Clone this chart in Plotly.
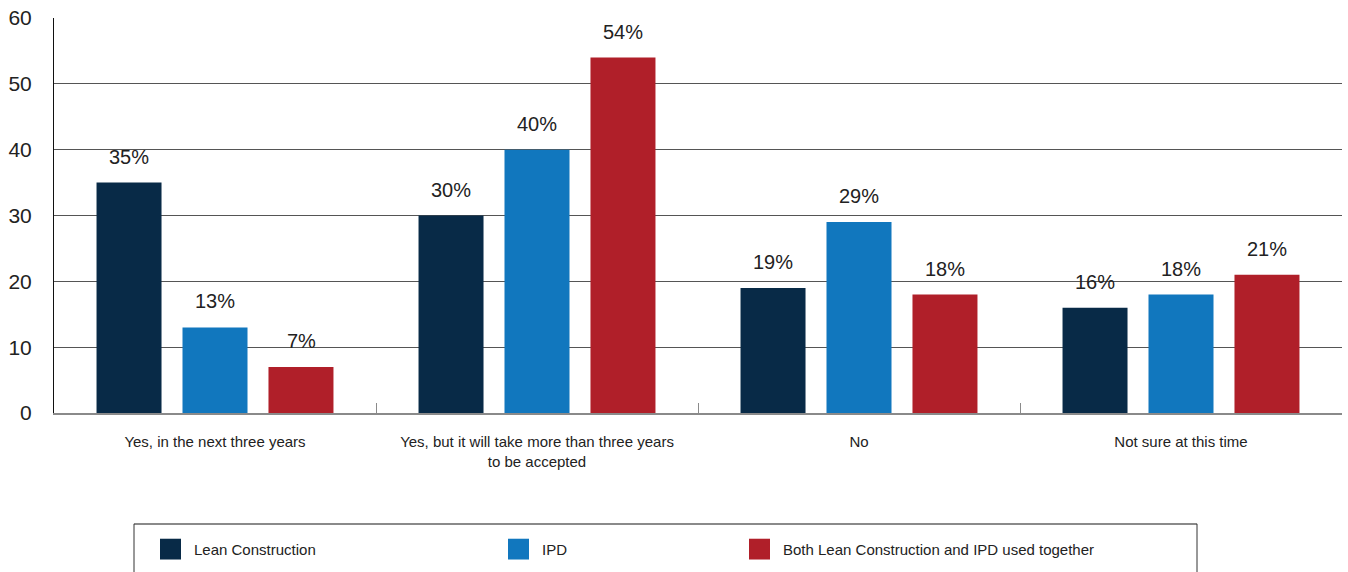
import plotly.graph_objects as go

categories = ["Yes, in the next three years",
              "Yes, but it will take more than three years<br>to be accepted",
              "No",
              "Not sure at this time"]
series_names = ["Lean Construction", "IPD", "Both Lean Construction and IPD used together"]
lean = [35, 30, 19, 16]
ipd = [13, 40, 29, 18]
both = [7, 54, 18, 21]
y_ticks = [0, 10, 20, 30, 40, 50, 60]

colors = ["#082a47", "#1177be", "#b01f29"]
values = [lean, ipd, both]

W, H = 1348, 572
L, R, T, B = 54, 6, 14, 159
pw, ph = W - L - R, H - T - B

def px(X):
    return (X - L) / pw

def py(Y):
    return (H - B - Y) / ph

fig = go.Figure()
for name, vals, c in zip(series_names, values, colors):
    fig.add_trace(go.Bar(x=categories, y=vals, name=name, marker=dict(color=c, line=dict(width=0)),
                         showlegend=False, hoverinfo="skip"))

slot = 86
annotations = []
for i, (vals, c) in enumerate(zip(values, colors)):
    for cat, v in zip(categories, vals):
        annotations.append(dict(x=cat, y=v, xref="x", yref="y", text=f"{v}%", showarrow=False,
                                xshift=(i - 1) * slot, yshift=13, yanchor="bottom",
                                font=dict(size=20, color="#222222")))

# manual legend
shapes = [
    dict(type="line", xref="paper", yref="paper", x0=px(134), x1=px(1197), y0=py(525), y1=py(525),
         line=dict(color="#8a8a8a", width=2)),
    dict(type="line", xref="paper", yref="paper", x0=px(134), x1=px(134), y0=py(525), y1=py(580),
         line=dict(color="#333333", width=1)),
    dict(type="line", xref="paper", yref="paper", x0=px(1197), x1=px(1197), y0=py(525), y1=py(580),
         line=dict(color="#333333", width=1)),
]
leg_x = [160, 508, 749]
for lx, name, c in zip(leg_x, series_names, colors):
    shapes.append(dict(type="rect", xref="paper", yref="paper", x0=px(lx), x1=px(lx + 21),
                       y0=py(540), y1=py(561), fillcolor=c, line=dict(width=0)))
    annotations.append(dict(x=px(lx + 32), y=py(551), xref="paper", yref="paper", text=name,
                            showarrow=False, xanchor="left", yanchor="middle",
                            font=dict(size=15, color="#222222")))

fig.update_layout(
    width=W, height=H,
    margin=dict(l=L, r=R, t=T, b=B, pad=0),
    paper_bgcolor="white", plot_bgcolor="white",
    barmode="group", bargap=0.199, bargroupgap=0.244,
    font=dict(family="Liberation Sans, Arial, sans-serif", color="#222222"),
    xaxis=dict(showgrid=False, showline=True, linecolor="#8a8a8a", linewidth=2,
               ticks="inside", tickson="boundaries", ticklen=10, tickcolor="#8a8a8a", tickwidth=1,
               tickfont=dict(size=15, color="#222222"), ticklabelstandoff=14),
    yaxis=dict(range=[0, 60], tickvals=y_ticks, showgrid=True, gridcolor="#555555", gridwidth=1,
               showline=True, linecolor="#111111", linewidth=1, zeroline=False,
               ticks="", tickfont=dict(size=21, color="#222222"), ticklabelstandoff=17),
    shapes=shapes,
    annotations=annotations,
)

fig.write_html("out.html")
